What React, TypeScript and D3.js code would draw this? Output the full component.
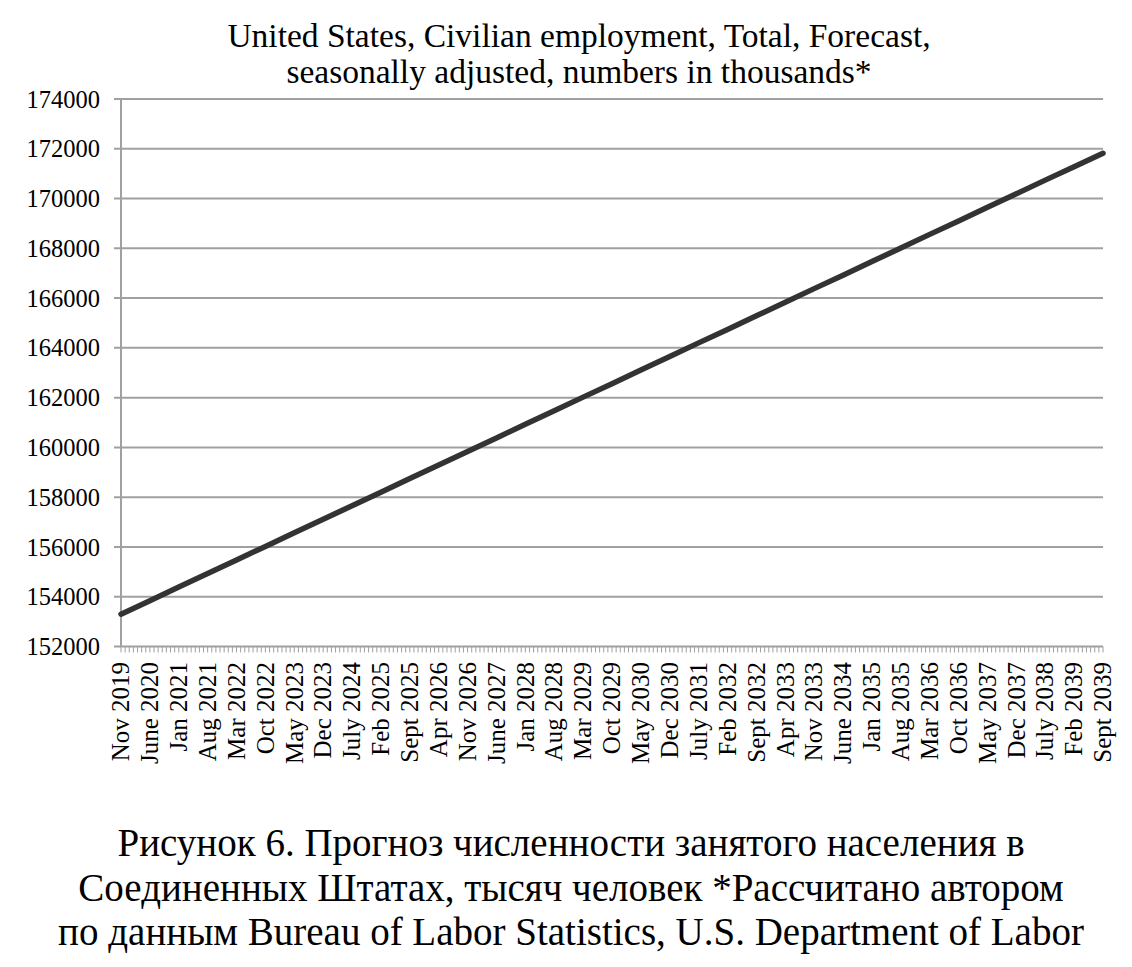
import React from "react";
import * as d3 from "d3";

const titleLines = [
  "United States, Civilian employment, Total, Forecast,",
  "seasonally adjusted, numbers in thousands*",
];
const captionLines = [
  "Рисунок 6. Прогноз численности занятого населения в",
  "Соединенных Штатах, тысяч человек *Рассчитано автором",
  "по данным Bureau of Labor Statistics, U.S. Department of Labor",
];
const categories = [
  "Nov 2019", "June 2020", "Jan 2021", "Aug 2021", "Mar 2022", "Oct 2022",
  "May 2023", "Dec 2023", "July 2024", "Feb 2025", "Sept 2025", "Apr 2026",
  "Nov 2026", "June 2027", "Jan 2028", "Aug 2028", "Mar 2029", "Oct 2029",
  "May 2030", "Dec 2030", "July 2031", "Feb 2032", "Sept 2032", "Apr 2033",
  "Nov 2033", "June 2034", "Jan 2035", "Aug 2035", "Mar 2036", "Oct 2036",
  "May 2037", "Dec 2037", "July 2038", "Feb 2039", "Sept 2039",
];
// month offset of each labelled category from Nov 2019
const monthOffsets = [
  0, 7, 14, 21, 28, 35, 42, 49, 56, 63, 70, 77, 84, 91, 98, 105, 112, 119,
  126, 133, 140, 147, 154, 161, 168, 175, 182, 189, 196, 203, 210, 217, 224,
  231, 238,
];
const employment = [
  153300, 153840, 154390, 154930, 155480, 156020, 156570, 157110, 157660,
  158200, 158750, 159290, 159840, 160380, 160930, 161470, 162020, 162560,
  163110, 163650, 164200, 164740, 165290, 165830, 166380, 166920, 167470,
  168010, 168560, 169100, 169650, 170190, 170740, 171280, 171820,
];
const yTicks = [152000, 154000, 156000, 158000, 160000, 162000, 164000, 166000, 168000, 170000, 172000, 174000];
const totalMonths = 238;

const W = 1132;
const H = 967;
const M = { left: 121, right: 1103, top: 99, bottom: 646.5 };
const FONT = "'Liberation Serif', 'Times New Roman', serif";

export default function App() {
  const x = d3.scaleLinear().domain([0, totalMonths]).range([M.left, M.right]);
  const y = d3.scaleLinear().domain([152000, 174000]).range([M.bottom, M.top]);
  const line = d3
    .line<number>()
    .x((_, i) => x(monthOffsets[i]))
    .y((d) => y(d));
  const minorTicks = d3.range(0, totalMonths + 1);

  return (
    <svg width={W} height={H} style={{ position: "absolute", left: 0, top: 0, background: "#fff" }}>
      <rect x={0} y={0} width={W} height={H} fill="#fff" />
      {titleLines.map((t, i) => (
        <text key={t} x={579} y={47 + i * 36} textAnchor="middle" fontFamily={FONT} fontSize={33.5} fill="#000">
          {t}
        </text>
      ))}
      {yTicks.map((v) => (
        <g key={v}>
          <line x1={M.left - 7} x2={M.right} y1={y(v)} y2={y(v)} stroke="#a0a0a0" strokeWidth={2} />
          <text x={100} y={y(v)} dy="0.35em" textAnchor="end" fontFamily={FONT} fontSize={24.5} fill="#000">
            {v}
          </text>
        </g>
      ))}
      <line x1={M.left} x2={M.left} y1={M.top} y2={M.bottom} stroke="#a0a0a0" strokeWidth={2} />
      {minorTicks.map((m) => (
        <line key={m} x1={x(m)} x2={x(m)} y1={M.bottom} y2={M.bottom + 6} stroke="#a0a0a0" strokeWidth={1} />
      ))}
      {categories.map((c, i) => (
        <text
          key={c}
          transform={`translate(${x(monthOffsets[i])},${662}) rotate(-90)`}
          dy="0.33em"
          textAnchor="end"
          fontFamily={FONT}
          fontSize={25}
          fill="#000"
        >
          {c}
        </text>
      ))}
      <path d={line(employment) || ""} fill="none" stroke="#333" strokeWidth={5.5} strokeLinecap="round" />
      {captionLines.map((t, i) => (
        <text key={t} x={571} y={856 + i * 44.5} textAnchor="middle" fontFamily={FONT} fontSize={39} fill="#000">
          {t}
        </text>
      ))}
    </svg>
  );
}
